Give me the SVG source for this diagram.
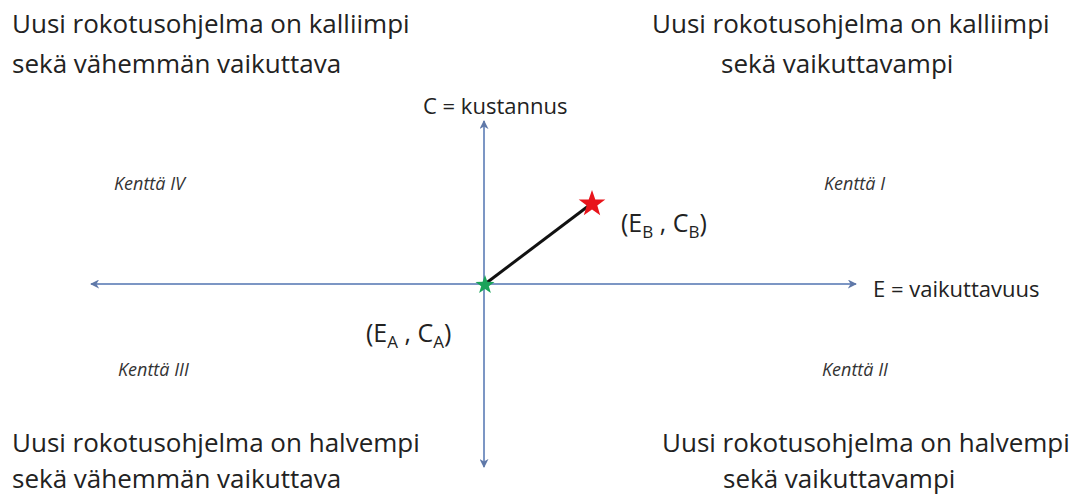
<svg xmlns="http://www.w3.org/2000/svg" width="1080" height="500" viewBox="0 0 1080 500">
<defs>
<style>
.big{font-family:"Open Sans","Liberation Sans",sans-serif;font-size:26px;fill:#222}
.ax{font-family:"Open Sans","Liberation Sans",sans-serif;font-size:22px;fill:#222}
.pt{font-family:"Open Sans","Liberation Sans",sans-serif;font-size:25px;fill:#222}
.sub{font-size:17px}
.k{font-family:"Open Sans","Liberation Sans",sans-serif;font-size:18px;font-style:italic;fill:#333}
.axis{stroke:#7c96c4;stroke-width:2;fill:none}
</style>
<marker id="ah" viewBox="0 0 10 10" refX="9" refY="5" markerWidth="9" markerHeight="9" orient="auto-start-reverse" markerUnits="userSpaceOnUse">
<path d="M0,0 L10,5 L0,10 L3,5 Z" fill="#5f78a8"/>
</marker>
</defs>
<rect width="1080" height="500" fill="#fff"/>
<g id="texts">
<text class="big" x="12" y="33">Uusi rokotusohjelma on kalliimpi</text>
<text class="big" x="12" y="73">sekä vähemmän vaikuttava</text>
<text class="big" x="652" y="33">Uusi rokotusohjelma on kalliimpi</text>
<text class="big" x="721" y="73">sekä vaikuttavampi</text>
<text class="big" x="12" y="452">Uusi rokotusohjelma on halvempi</text>
<text class="big" x="12" y="488">sekä vähemmän vaikuttava</text>
<text class="big" x="662" y="452">Uusi rokotusohjelma on halvempi</text>
<text class="big" x="723" y="488">sekä vaikuttavampi</text>
</g>
<g id="quadrant-labels">
<text class="k" x="114" y="190">Kenttä IV</text>
<text class="k" x="824" y="190">Kenttä I</text>
<text class="k" x="118" y="376">Kenttä III</text>
<text class="k" x="822" y="376">Kenttä II</text>
</g>
<g id="connectors">
<line class="axis" x1="484" y1="467" x2="484" y2="121" marker-start="url(#ah)" marker-end="url(#ah)"/>
<line class="axis" x1="91" y1="284" x2="856" y2="284" marker-start="url(#ah)" marker-end="url(#ah)"/>
<line x1="485" y1="284" x2="591" y2="204" stroke="#111" stroke-width="3"/>
</g>
<g id="axis-labels">
<text class="ax" x="423" y="114">C = kustannus</text>
<text class="ax" x="873" y="297">E = vaikuttavuus</text>
</g>
<g id="point-A">
<polygon points="485,275 487.4,281.8 494.5,282 488.8,286.3 490.9,293.1 485,289 479.1,293.1 481.2,286.3 475.5,282 482.6,281.8" fill="#1aa35a"/>
<text class="pt" x="366" y="342">(E<tspan class="sub" dy="6">A</tspan><tspan dy="-6"> , C</tspan><tspan class="sub" dy="6">A</tspan><tspan dy="-6">)</tspan></text>
</g>
<g id="point-B">
<polygon points="592,190 595.3,199.4 605.3,199.6 597.3,205.6 600.2,215.2 592,209.5 583.8,215.2 586.7,205.6 578.7,199.6 588.7,199.4" fill="#e8141b"/>
<text class="pt" x="621" y="232">(E<tspan class="sub" dy="6">B</tspan><tspan dy="-6"> , C</tspan><tspan class="sub" dy="6">B</tspan><tspan dy="-6">)</tspan></text>
</g>
</svg>
